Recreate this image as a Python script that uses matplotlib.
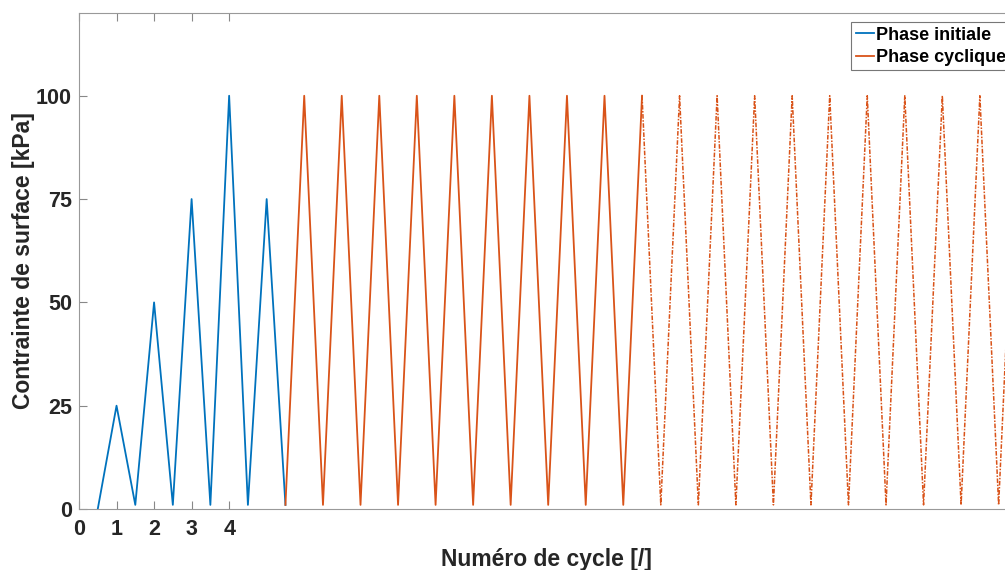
import matplotlib.pyplot as plt

plt.rcParams['font.family'] = ['Liberation Sans', 'DejaVu Sans']
plt.rcParams['font.weight'] = 'bold'

# phase initiale (paliers croissants)
x_init = [0.5, 1, 1.5, 2, 2.5, 3, 3.5, 4, 4.5, 5, 5.5]
y_init = [0, 25, 1, 50, 1, 75, 1, 100, 1, 75, 1]

# phase cyclique, partie tracée en trait plein
x_cyc = [5.5, 6, 6.5, 7, 7.5, 8, 8.5, 9, 9.5, 10, 10.5, 11, 11.5, 12,
         12.5, 13, 13.5, 14, 14.5, 15]
y_cyc = [1, 100, 1, 100, 1, 100, 1, 100, 1, 100, 1, 100, 1, 100,
         1, 100, 1, 100, 1, 100]

# phase cyclique, suite en pointillés
x_cyc2 = [15, 15.5, 16, 16.5, 17, 17.5, 18, 18.5, 19, 19.5, 20, 20.5,
          21, 21.5, 22, 22.5, 23, 23.5, 24, 24.5, 25]
y_cyc2 = [100, 1, 100, 1, 100, 1, 100, 1, 100, 1, 100, 1,
          100, 1, 100, 1, 100, 1, 100, 1, 100]

xticks = [0, 1, 2, 3, 4]
yticks = [0, 25, 50, 75, 100]

bleu = '#0072BD'
orange = '#D95319'

fig = plt.figure(figsize=(10.05, 5.70), dpi=100)
ax = fig.add_axes([0.0786, 0.107, 0.93, 0.870])

ax.plot(x_init, y_init, color=bleu, lw=1.3, label='Phase initiale')
ax.plot(x_cyc, y_cyc, color=orange, lw=1.3, label='Phase cyclique')
ax.plot(x_cyc2, y_cyc2, color=orange, lw=1.1, ls=(0, (3, 1, 1, 1)))

ax.set_xlim(0, 24.9)
ax.set_ylim(0, 120)
ax.set_xticks(xticks)
ax.set_yticks(yticks)
ax.tick_params(direction='in', length=6, width=0.8, colors='#888888',
               labelcolor='#262626', labelsize=15.5, top=True)
ax.tick_params(axis='x', pad=7)
ax.tick_params(axis='y', pad=5)
for lab in ax.get_xticklabels() + ax.get_yticklabels():
    lab.set_fontweight('bold')
for side in ['left', 'bottom', 'top']:
    ax.spines[side].set_color('#999999')
ax.spines['right'].set_visible(False)

ax.set_xlabel('Numéro de cycle [/]', fontsize=16.5, fontweight='bold',
              color='#262626', labelpad=6)
ax.set_ylabel('Contrainte de surface [kPa]', fontsize=16.5, fontweight='bold',
              color='#262626', labelpad=1)

leg = ax.legend(loc='upper left', bbox_to_anchor=(0.826, 0.982), fontsize=13.0,
                handlelength=1.0, handletextpad=0.15, borderpad=0.25,
                labelspacing=0.3, frameon=True, fancybox=False,
                borderaxespad=0.0)
leg.get_frame().set_edgecolor('#555555')
leg.get_frame().set_linewidth(0.8)
for t in leg.get_texts():
    t.set_fontweight('bold')

fig.savefig('out.png', dpi=100)
